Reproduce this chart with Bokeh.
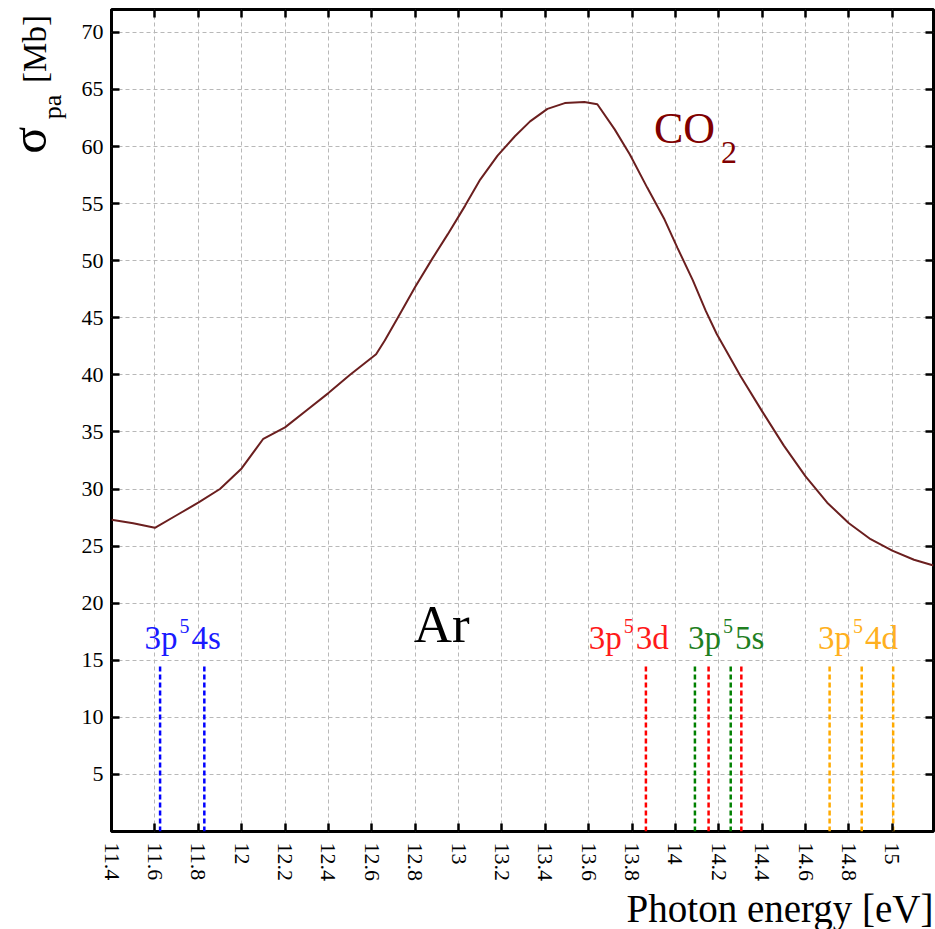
import math
from bokeh.plotting import figure
from bokeh.layouts import row
from bokeh.models import Range1d, FixedTicker, LinearAxis, Label, CustomJSTickFormatter, Title
from bokeh.core.properties import value
from bokeh.embed import file_html
from bokeh.resources import INLINE

# ---- data ----
energy = [11.40, 11.50, 11.60, 11.70, 11.80, 11.90, 12.00, 12.10, 12.20, 12.30,
          12.40, 12.50, 12.62, 12.66, 12.72, 12.80, 12.88, 12.95, 13.03, 13.10,
          13.18, 13.26, 13.33, 13.41, 13.49, 13.58, 13.64, 13.72, 13.79, 13.87,
          13.95, 14.01, 14.08, 14.14, 14.19, 14.30, 14.40, 14.50, 14.60, 14.70,
          14.80, 14.90, 15.00, 15.10, 15.19]
sigma = [27.3, 27.0, 26.6, 27.7, 28.8, 30.0, 31.8, 34.4, 35.4, 36.9,
         38.4, 40.0, 41.8, 43.0, 45.0, 47.7, 50.2, 52.3, 54.8, 57.1,
         59.2, 60.9, 62.2, 63.3, 63.8, 63.9, 63.7, 61.5, 59.3, 56.4,
         53.6, 51.1, 48.3, 45.6, 43.6, 39.9, 36.8, 33.8, 31.1, 28.8,
         27.0, 25.6, 24.6, 23.8, 23.3]

ar_4s = [11.624, 11.828]
ar_3d = [13.864, 14.153, 14.304]
ar_5s = [14.090, 14.255]
ar_4d = [14.711, 14.859, 15.004]
line_top = 14.6

x_ticks = [11.4, 11.6, 11.8, 12.0, 12.2, 12.4, 12.6, 12.8, 13.0, 13.2, 13.4,
           13.6, 13.8, 14.0, 14.2, 14.4, 14.6, 14.8, 15.0]
y_ticks = [5, 10, 15, 20, 25, 30, 35, 40, 45, 50, 55, 60, 65, 70]

# label groups: (left x, baseline y, rest text, colour)
level_labels = [
    (11.552, 15.9, "4s", "#1a1aff"),
    (13.601, 15.9, "3d", "#ff1a1a"),
    (14.058, 15.9, "5s", "#1f7f1f"),
    (14.658, 15.9, "4d", "#ffb020"),
]

SERIF = "Liberation Serif"
LEFT_W = 78

# ---- left strip holding the y-axis title (sigma_pa [Mb]) ----
lf = figure(width=LEFT_W, height=929, x_range=Range1d(0, LEFT_W), y_range=Range1d(0, 929),
            output_backend="svg", toolbar_location=None, min_border=0,
            x_axis_type=None, y_axis_type=None)
lf.grid.visible = False
lf.outline_line_color = None
lf.background_fill_color = "white"
lf.border_fill_color = "white"
ylab_parts = [("σ", 28, 929 - 163, "50px"), ("pa", 52, 929 - 124, "26px"), ("[Mb]", 34, 929 - 83, "33px")]
for t, bx, by, fs in ylab_parts:
    lf.text(x=[bx], y=[by], text=[t], angle=math.pi / 2, text_font=value(SERIF),
            text_font_size=fs, text_color="black", text_baseline="alphabetic", text_align="left")

# ---- main plot ----
p = figure(width=935 - LEFT_W, height=929, x_range=Range1d(11.4, 15.19), y_range=Range1d(0, 72),
           output_backend="svg", toolbar_location=None,
           min_border_left=111 - LEFT_W, min_border_right=2, min_border_top=9, min_border_bottom=98)
p.background_fill_color = "white"
p.border_fill_color = "white"
p.outline_line_color = "black"
p.outline_line_width = 3

xt = FixedTicker(ticks=x_ticks)
yt = FixedTicker(ticks=y_ticks)
fmt = CustomJSTickFormatter(code="return (Math.round(tick*10)/10).toString();")
blank = CustomJSTickFormatter(code="return '';")

p.xaxis.ticker = xt
p.yaxis.ticker = yt
p.xaxis.formatter = fmt
p.xgrid.ticker = xt
p.ygrid.ticker = yt
p.grid.grid_line_color = "#b8b8b8"
p.grid.grid_line_dash = "4 3"
p.grid.grid_line_width = 1

for ax in [p.xaxis[0], p.yaxis[0]]:
    ax.axis_line_color = None
    ax.major_tick_in = 8
    ax.major_tick_out = 0
    ax.major_tick_line_width = 2.5
    ax.minor_tick_line_color = None
    ax.major_label_text_font = SERIF
    ax.major_label_text_font_size = "22px"
    ax.major_label_text_color = "black"
p.xaxis.major_label_orientation = -math.pi / 2
p.xaxis.major_label_standoff = 11
p.yaxis.major_label_standoff = 8

top = LinearAxis(ticker=xt, formatter=blank, major_label_text_font_size="1px", major_label_standoff=0,
                 axis_line_color=None, major_tick_in=8, major_tick_out=0,
                 major_tick_line_width=2.5, minor_tick_line_color=None)
right = LinearAxis(ticker=yt, formatter=blank, major_label_text_font_size="1px", major_label_standoff=0,
                   axis_line_color=None, major_tick_in=8, major_tick_out=0,
                   major_tick_line_width=2.5, minor_tick_line_color=None)
p.add_layout(top, "above")
p.add_layout(right, "right")

# x-axis title
p.add_layout(Title(text="Photon energy [eV]", align="right", text_font=SERIF, text_font_size="39px",
                   text_font_style="normal", text_color="black", standoff=0), "below")

# curve
p.line(energy, sigma, line_color="#6b1f1f", line_width=2)

# Ar levels
for xs, col in [(ar_4s, "#0000ff"), (ar_3d, "#ff0000"), (ar_5s, "#008000"), (ar_4d, "#ffaa00")]:
    p.segment(x0=xs, y0=[0] * len(xs), x1=xs, y1=[line_top] * len(xs),
              line_color=col, line_width=2.5, line_dash="5 3")

for (lx, ly, rest, col) in level_labels:
    p.add_layout(Label(x=lx, y=ly, y_offset=12, text="3p", text_font=SERIF, text_font_size="33px",
                       text_color=col, text_baseline="alphabetic"))
    p.add_layout(Label(x=lx, y=ly, x_offset=35, y_offset=24, text="5", text_font=SERIF,
                       text_font_size="20px", text_color=col, text_baseline="alphabetic"))
    p.add_layout(Label(x=lx, y=ly, x_offset=47, y_offset=12, text=rest, text_font=SERIF,
                       text_font_size="33px", text_color=col, text_baseline="alphabetic"))

# Ar and CO2 labels
p.add_layout(Label(x=12.794, y=16.5, y_offset=19, text="Ar", text_font=SERIF, text_font_size="53px",
                   text_color="black", text_baseline="alphabetic"))
p.add_layout(Label(x=13.901, y=60.2, y_offset=16, text="CO", text_font=SERIF, text_font_size="44px",
                   text_color="#800000", text_baseline="alphabetic"))
p.add_layout(Label(x=13.901, y=60.2, x_offset=67, y_offset=-8, text="2", text_font=SERIF,
                   text_font_size="32px", text_color="#800000", text_baseline="alphabetic"))

layout = row(lf, p, spacing=0)
open("out.html", "w").write(file_html(layout, INLINE))
